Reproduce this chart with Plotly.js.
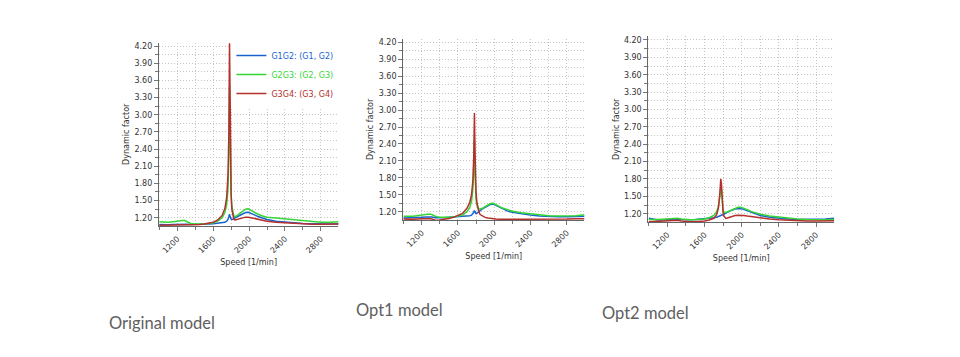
<!DOCTYPE html>
<html>
<head>
<meta charset="utf-8">
<script src="https://cdn.plot.ly/plotly-3.0.1.min.js"></script>
<style>html,body{margin:0;padding:0;background:#fff;}#chart{width:960px;height:357px;}</style>
</head>
<body>
<div id="chart"></div>
<script>
// Speed [1/min]
const speed = [1000,1050,1100,1150,1200,1250,1280,1310,1350,1400,1450,1500,1550,1600,1650,1700,1730,1750,1765,1775,1782,1788,1794,1800,1808,1818,1830,1845,1870,1900,1930,1960,1990,2020,2060,2100,2150,2200,2300,2400,2500,2600,2700,2800,2900,3000];

const seriesNames = ["G1G2: (G1, G2)", "G2G3: (G2, G3)", "G3G4: (G3, G4)"];
const modelNames = ["Original model", "Opt1 model", "Opt2 model"];

// Original model
const origG1G2 = [1.08,1.075,1.075,1.08,1.085,1.09,1.09,1.085,1.08,1.08,1.08,1.085,1.09,1.095,1.10,1.11,1.12,1.14,1.17,1.22,1.26,1.22,1.19,1.175,1.17,1.17,1.18,1.20,1.22,1.25,1.28,1.29,1.295,1.28,1.25,1.22,1.19,1.17,1.14,1.125,1.11,1.10,1.095,1.09,1.09,1.095];
const origG2G3 = [1.13,1.12,1.12,1.13,1.14,1.15,1.155,1.13,1.10,1.09,1.085,1.09,1.10,1.11,1.14,1.20,1.29,1.42,1.70,2.30,3.49,2.60,1.95,1.60,1.40,1.28,1.23,1.22,1.24,1.28,1.32,1.35,1.355,1.33,1.29,1.26,1.23,1.21,1.195,1.18,1.165,1.15,1.135,1.12,1.12,1.13];
const origG3G4 = [1.07,1.07,1.075,1.08,1.08,1.08,1.08,1.075,1.075,1.075,1.08,1.09,1.10,1.12,1.16,1.24,1.36,1.55,1.95,2.70,4.25,2.90,2.00,1.60,1.35,1.22,1.17,1.16,1.17,1.19,1.205,1.21,1.21,1.20,1.18,1.165,1.15,1.14,1.12,1.11,1.10,1.09,1.085,1.085,1.085,1.09];

// Opt1 model
const opt1G1G2 = [1.09,1.09,1.095,1.10,1.10,1.105,1.11,1.105,1.095,1.09,1.095,1.10,1.105,1.11,1.115,1.12,1.13,1.14,1.16,1.19,1.22,1.19,1.17,1.165,1.17,1.18,1.20,1.22,1.25,1.28,1.31,1.33,1.335,1.31,1.27,1.24,1.21,1.19,1.16,1.14,1.125,1.115,1.11,1.11,1.115,1.12];
const opt1G2G3 = [1.12,1.115,1.12,1.13,1.14,1.155,1.16,1.15,1.12,1.10,1.095,1.10,1.105,1.12,1.14,1.20,1.27,1.38,1.60,1.95,2.47,1.90,1.58,1.42,1.32,1.27,1.25,1.25,1.26,1.29,1.32,1.345,1.35,1.33,1.29,1.26,1.23,1.21,1.18,1.16,1.14,1.13,1.125,1.125,1.13,1.145];
const opt1G3G4 = [1.07,1.065,1.065,1.07,1.075,1.08,1.08,1.07,1.05,1.055,1.065,1.08,1.10,1.13,1.17,1.26,1.36,1.50,1.75,2.20,2.95,2.30,1.80,1.55,1.38,1.27,1.20,1.15,1.12,1.10,1.09,1.08,1.075,1.07,1.065,1.065,1.06,1.06,1.06,1.06,1.06,1.065,1.065,1.07,1.075,1.075];

// Opt2 model
const opt2G1G2 = [1.12,1.10,1.09,1.095,1.10,1.105,1.11,1.105,1.10,1.095,1.095,1.10,1.105,1.11,1.12,1.13,1.14,1.15,1.16,1.165,1.17,1.175,1.18,1.185,1.19,1.20,1.21,1.225,1.245,1.265,1.28,1.29,1.29,1.275,1.25,1.22,1.19,1.17,1.14,1.12,1.11,1.10,1.10,1.105,1.11,1.12];
const opt2G2G3 = [1.10,1.095,1.10,1.105,1.11,1.12,1.125,1.12,1.11,1.10,1.095,1.095,1.10,1.11,1.13,1.17,1.23,1.33,1.50,1.66,1.62,1.45,1.32,1.26,1.23,1.22,1.22,1.23,1.25,1.27,1.295,1.31,1.31,1.295,1.27,1.24,1.21,1.19,1.16,1.14,1.12,1.11,1.10,1.095,1.095,1.10];
const opt2G3G4 = [1.06,1.065,1.07,1.075,1.08,1.09,1.09,1.085,1.075,1.065,1.06,1.06,1.065,1.075,1.09,1.12,1.18,1.30,1.55,1.80,1.72,1.50,1.32,1.22,1.16,1.13,1.12,1.125,1.14,1.155,1.17,1.175,1.175,1.17,1.16,1.15,1.14,1.13,1.11,1.095,1.085,1.08,1.075,1.075,1.075,1.08];

const xTicks = [1200,1600,2000,2400,2800];
const yTicks = [1.20,1.50,1.80,2.10,2.40,2.70,3.00,3.30,3.60,3.90,4.20];

const colors = ["#1a63cf", "#35d535", "#b3302c"];
const models = [
  [origG1G2, origG2G3, origG3G4],
  [opt1G1G2, opt1G2G3, opt1G3G4],
  [opt2G1G2, opt2G2G3, opt2G3G4]
];

const xDomains = [[0.1655,0.3525],[0.4199,0.6087],[0.6753,0.8689]];
const yDomains = [[0.3669,0.8807],[0.3840,0.8910],[0.3779,0.8978]];

const traces = [];
models.forEach((m, mi) => {
  m.forEach((vals, si) => {
    traces.push({
      type: "scatter", mode: "lines",
      x: speed, y: vals,
      xaxis: mi === 0 ? "x" : "x" + (mi + 1),
      yaxis: mi === 0 ? "y" : "y" + (mi + 1),
      name: '<span style="color:' + colors[si] + '">' + seriesNames[si] + '</span>',
      showlegend: mi === 0,
      line: {color: colors[si], width: 1.5},
      hoverinfo: "skip"
    });
  });
});

const tickFont = {family: "DejaVu Sans, sans-serif", size: 8, color: "#333"};
const titleFont = {family: "DejaVu Sans, sans-serif", size: 8, color: "#333"};
const gridDash = "1px,2px";
const captionFont = {family: "Lato, sans-serif", size: 16.5, color: "#606060"};

const layout = {
  width: 960, height: 357, autosize: false,
  margin: {l: 0, r: 0, t: 0, b: 0},
  paper_bgcolor: "#fff", plot_bgcolor: "#fff",
  showlegend: true,
  legend: {
    x: 0.3525, xanchor: "right", y: 0.885, yanchor: "top",
    bgcolor: "rgba(255,255,255,1)", borderwidth: 0,
    font: {family: "DejaVu Sans, sans-serif", size: 8},
    itemwidth: 30, tracegroupgap: 0
  },
  annotations: [
    {text: modelNames[0], xref: "paper", yref: "paper", x: 107/960, y: 1 - 323/357, xanchor: "left", yanchor: "middle", showarrow: false, font: captionFont},
    {text: modelNames[1], xref: "paper", yref: "paper", x: 354/960, y: 1 - 310/357, xanchor: "left", yanchor: "middle", showarrow: false, font: captionFont},
    {text: modelNames[2], xref: "paper", yref: "paper", x: 600/960, y: 1 - 313/357, xanchor: "left", yanchor: "middle", showarrow: false, font: captionFont}
  ]
};

for (let i = 0; i < 3; i++) {
  const sx = i === 0 ? "" : String(i + 1);
  layout["xaxis" + sx] = {
    domain: xDomains[i], range: [995, 2995], anchor: "y" + sx,
    tickvals: xTicks, ticktext: xTicks.map(String), tickangle: -45,
    tickfont: tickFont, ticks: "outside", ticklen: 4, tickcolor: "#777",
    showline: true, linecolor: "#666", linewidth: 1,
    showgrid: true, gridcolor: "#c4c4c4", griddash: gridDash, gridwidth: 1,
    minor: {dtick: 200, tick0: 0, ticks: "outside", ticklen: 3, tickcolor: "#777", showgrid: true, gridcolor: "#c4c4c4", griddash: gridDash},
    zeroline: false, fixedrange: true,
    title: {text: "Speed [1/min]", font: titleFont, standoff: 5}
  };
  layout["yaxis" + sx] = {
    domain: yDomains[i], range: [1.055, 4.26], anchor: "x" + sx,
    tickvals: yTicks, ticktext: yTicks.map(v => v.toFixed(2)),
    tickfont: tickFont, ticks: "outside", ticklen: 4, tickcolor: "#777",
    showline: true, linecolor: "#666", linewidth: 1,
    showgrid: true, gridcolor: "#c4c4c4", griddash: gridDash, gridwidth: 1,
    minor: {dtick: 0.15, tick0: 1.2, ticks: "outside", ticklen: 3, tickcolor: "#777", showgrid: true, gridcolor: "#c4c4c4", griddash: gridDash},
    zeroline: false, fixedrange: true,
    title: {text: "Dynamic factor", font: titleFont, standoff: 3}
  };
}

Plotly.newPlot("chart", traces, layout, {displayModeBar: false, staticPlot: true});
</script>
</body>
</html>
